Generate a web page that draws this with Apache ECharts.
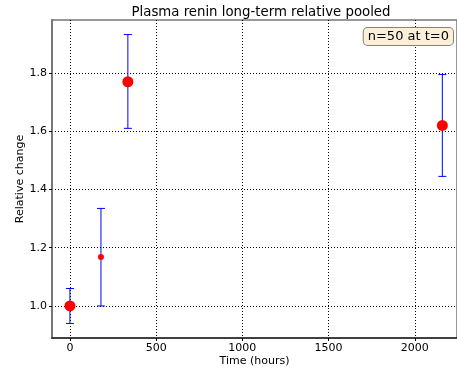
<!DOCTYPE html>
<html><head><meta charset="utf-8">
<script src="https://cdn.jsdelivr.net/npm/echarts@6/dist/echarts.min.js"></script>
<style>html,body{margin:0;padding:0;background:#fff}#c{width:457px;height:372px}</style>
</head><body><div id="c"></div>
<script>
const times = [0, 180, 336, 2160];
const means = [1.0, 1.168, 1.77, 1.62];
const lower = [0.94, 1.0, 1.61, 1.445];
const upper = [1.06, 1.335, 1.932, 1.795];
const markerSizes = [11, 6, 11, 11];
const xTicks = [0, 500, 1000, 1500, 2000];
const yTicks = [1.0, 1.2, 1.4, 1.6, 1.8];
const title = 'Plasma renin long-term relative pooled';
const note = 'n=50 at t=0';

const chart = echarts.init(document.getElementById('c'), null, {renderer: 'canvas'});
const font = 'DejaVu Sans';
const axisCommon = {
  axisLine: {show: true, onZero: false, lineStyle: {color: '#777', width: 2}},
  axisTick: {show: true, inside: false, length: 3, lineStyle: {color: '#000'}},
  splitLine: {show: true, lineStyle: {color: '#000', type: [1, 2], width: 1}},
  axisLabel: {color: '#000', fontFamily: font, fontSize: 11}
};
chart.setOption({
  animation: false,
  backgroundColor: '#fff',
  title: {text: title, left: 256, top: 1, textAlign: 'center',
    textStyle: {fontFamily: font, fontSize: 13.3, fontWeight: 'normal', color: '#000'}},
  grid: {left: 52, right: 0, top: 20, bottom: 34, show: true, borderColor: '#777', borderWidth: 1.5,
    containLabel: false, outerBoundsMode: 'none'},
  xAxis: Object.assign({}, axisCommon, {
    type: 'value', min: -104, max: 2245,
    name: 'Time (hours)', nameLocation: 'middle', nameGap: 18, nameMoveOverlap: false,
    nameTextStyle: {fontFamily: font, fontSize: 11, color: '#000'},
    axisLine: {show: true, onZero: false, lineStyle: {color: '#222', width: 1.5}},
    axisTick: Object.assign({}, axisCommon.axisTick, {customValues: xTicks}),
    axisLabel: Object.assign({}, axisCommon.axisLabel, {customValues: xTicks, margin: 5,
      formatter: v => String(v)}),
    splitLine: axisCommon.splitLine
  }),
  yAxis: Object.assign({}, axisCommon, {
    type: 'value', min: 0.89, max: 1.982,
    name: 'Relative change', nameLocation: 'middle', nameGap: 26, nameMoveOverlap: false,
    nameTextStyle: {fontFamily: font, fontSize: 11, color: '#000'},
    axisTick: Object.assign({}, axisCommon.axisTick, {customValues: yTicks}),
    axisLabel: Object.assign({}, axisCommon.axisLabel, {customValues: yTicks, margin: 5,
      formatter: v => v.toFixed(1)}),
  }),
  graphic: [{
    type: 'text', right: 3, top: 27, z: 100,
    style: {text: note, fontFamily: font, fontSize: 13, fill: '#000',
      backgroundColor: '#fbefda', borderColor: '#8a8170', borderWidth: 1, borderRadius: 4,
      padding: [2, 4, 2, 4]}
  }],
  series: [{
    type: 'custom',
    data: times.map((t, i) => [t, lower[i], upper[i]]),
    renderItem: function (params, api) {
      const lo = api.coord([api.value(0), api.value(1)]);
      const hi = api.coord([api.value(0), api.value(2)]);
      const w = 4;
      const st = {stroke: '#0000ff', lineWidth: 1};
      return {type: 'group', children: [
        {type: 'line', shape: {x1: lo[0], y1: lo[1], x2: hi[0], y2: hi[1]}, style: st},
        {type: 'line', shape: {x1: lo[0] - w, y1: lo[1], x2: lo[0] + w, y2: lo[1]}, style: st},
        {type: 'line', shape: {x1: hi[0] - w, y1: hi[1], x2: hi[0] + w, y2: hi[1]}, style: st}
      ]};
    },
    z: 2
  }, {
    type: 'scatter',
    data: times.map((t, i) => [t, means[i]]),
    symbolSize: (v, p) => markerSizes[p.dataIndex],
    itemStyle: {color: '#ff0000', opacity: 1},
    z: 3
  }]
});
</script></body></html>
